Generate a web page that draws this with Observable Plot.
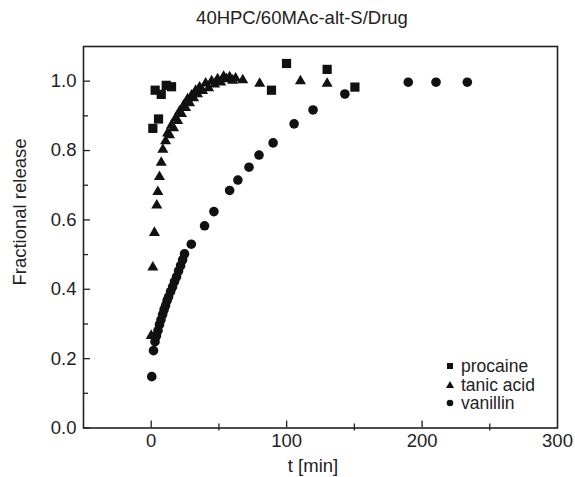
<!DOCTYPE html>
<html>
<head>
<meta charset="utf-8">
<script src="https://cdn.jsdelivr.net/npm/d3@7"></script>
<script src="https://cdn.jsdelivr.net/npm/@observablehq/plot@0.6"></script>
<style>
  html, body { margin: 0; padding: 0; background: white; }
  #wrap { position: relative; width: 575px; height: 477px; font-family: "Liberation Sans", Arial, sans-serif; color: #222; }
  #wrap svg { position: absolute; left: 0; top: 0; }
  .lbl { position: absolute; white-space: nowrap; text-align: center; font-size: 18.5px; line-height: 20px; }
  .leg { position: absolute; left: 444px; font-size: 17.5px; line-height: 18.5px; }
  .leg div { height: 18.5px; display: flex; align-items: center; }
  .leg svg { position: static !important; margin-right: 5px; }
</style>
</head>
<body>
<div id="wrap">
  <div id="chart"></div>
  <div class="lbl" style="left:0;width:604px;top:8px;">40HPC/60MAc-alt-S/Drug</div>
  <div class="lbl" style="left:213px;width:200px;top:456px;">t [min]</div>
  <div class="lbl" style="left:-80px;width:200px;top:202px;transform:rotate(-90deg);">Fractional release</div>
  <div class="leg" style="top:357px;">
    <div><svg width="12" height="12"><rect x="3" y="3" width="6" height="6" fill="#111"/></svg>procaine</div>
    <div><svg width="12" height="12"><path d="M6,2 L10,9 L2,9 Z" fill="#111"/></svg>tanic acid</div>
    <div><svg width="12" height="12"><circle cx="6" cy="6" r="3.3" fill="#111"/></svg>vanillin</div>
  </div>
</div>
<script>
// ---- data ----
const procaineT = [1.2, 2.9, 5.4, 7.4, 11.1, 15.0, 88.8, 99.9, 129.9, 150.4];
const procaineF = [0.864, 0.974, 0.891, 0.962, 0.988, 0.984, 0.974, 1.051, 1.034, 0.983];

const tanicT = [0, 1.2, 2.4, 4.1, 4.9, 6.1, 7.4, 8.6, 10.6, 12.1, 13.5, 15.0, 16.5, 18.0, 19.5, 20.9,
  22.4, 23.9, 25.4, 26.8, 28.3, 29.8, 31.3, 32.8, 34.2, 35.7, 37.9, 40.2, 42.4, 44.6, 46.8, 49.0,
  51.3, 53.5, 55.7, 57.9, 60.1, 62.3, 67.6, 80.1, 110.2, 129.9];
const tanicF = [0.266, 0.463, 0.563, 0.642, 0.681, 0.724, 0.765, 0.803, 0.827, 0.850, 0.845, 0.873,
  0.865, 0.893, 0.886, 0.913, 0.906, 0.930, 0.923, 0.948, 0.937, 0.959, 0.951, 0.973, 0.963, 0.982,
  0.972, 0.994, 0.980, 1.000, 0.991, 1.006, 0.997, 1.013, 1.006, 1.012, 1.002, 1.008, 1.003, 0.993,
  1.000, 0.993];

const vanillinT = [0.4, 1.7, 2.8, 3.9, 5.0, 6.1, 7.2, 8.4, 9.5, 10.6, 11.7, 12.8, 14.3, 15.8, 17.2,
  18.7, 20.2, 21.7, 23.2, 24.6, 29.6, 39.4, 46.3, 57.9, 64.0, 72.2, 79.6, 90.0, 105.5, 119.5, 143.0,
  189.8, 210.3, 233.4];
const vanillinF = [0.148, 0.223, 0.249, 0.266, 0.281, 0.298, 0.312, 0.327, 0.341, 0.353, 0.367, 0.378,
  0.393, 0.407, 0.422, 0.436, 0.453, 0.468, 0.485, 0.502, 0.530, 0.583, 0.624, 0.685, 0.715, 0.752,
  0.787, 0.822, 0.877, 0.917, 0.963, 0.997, 0.997, 0.997];

const xTickLabels = [0, 100, 200, 300];
const xMajorTicks = [0, 100, 200];
const xMinorTicks = [50, 150, 250];
const yTickLabels = [0, 0.2, 0.4, 0.6, 0.8, 1.0];
const yMinorTicks = [0.1, 0.3, 0.5, 0.7, 0.9];

const toRows = (T, F) => T.map((t, i) => ({t, f: F[i]}));
const procaine = toRows(procaineT, procaineF);
const tanic = toRows(tanicT, tanicF);
const vanillin = toRows(vanillinT, vanillinF);

const W = 575, H = 477, mT = 46, mB = 49.5, mL = 83, mR = 18;
const plotH = H - mT - mB, plotW = W - mL - mR;
const ink = "#111";

const chart = Plot.plot({
  width: W, height: H,
  marginTop: mT, marginBottom: mB, marginLeft: mL, marginRight: mR,
  x: {domain: [-50, 300]},
  y: {domain: [0, 1.1]},
  style: {fontFamily: "'Liberation Sans', Arial, sans-serif", fontSize: "18.5px", color: "#222", background: "transparent"},
  marks: [
    Plot.axisX(xTickLabels, {tickSize: 0, tickPadding: 6, label: null, fontSize: 18.5}),
    Plot.axisY(yTickLabels, {tickSize: 0, tickPadding: 7, label: null, fontSize: 18.5, tickFormat: d3.format(".1f")}),
    Plot.ruleX(xMajorTicks, {x: d => d, insetTop: plotH - 7, stroke: "#222", strokeWidth: 1.3}),
    Plot.ruleX(xMinorTicks, {x: d => d, insetTop: plotH - 4, insetBottom: -3, stroke: "#222", strokeWidth: 1.3}),
    Plot.ruleY(yTickLabels, {y: d => d, insetRight: plotW - 7, stroke: "#222", strokeWidth: 1.3}),
    Plot.ruleY(yMinorTicks, {y: d => d, insetRight: plotW - 5, stroke: "#222", strokeWidth: 1.3}),
    Plot.frame({stroke: "#222", strokeWidth: 1.6}),
    Plot.dot(vanillin, {x: "t", y: "f", symbol: "circle", r: 4.8, fill: ink, stroke: "none"}),
    Plot.dot(tanic, {x: "t", y: "f", symbol: "triangle", r: 4.1, fill: ink, stroke: "none"}),
    Plot.dot(procaine, {x: "t", y: "f", symbol: "square", r: 5.2, fill: ink, stroke: "none"})
  ]
});
document.getElementById("chart").appendChild(chart);
</script>
</body>
</html>
